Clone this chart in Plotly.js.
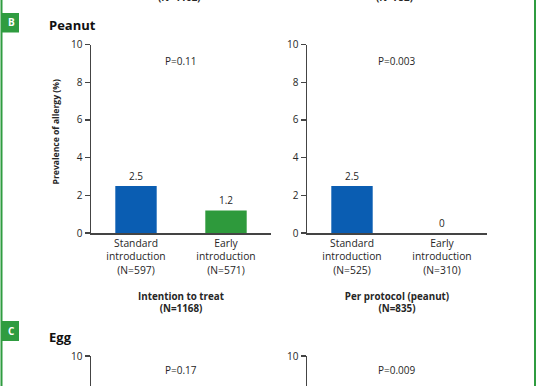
<!DOCTYPE html>
<html>
<head>
<meta charset="utf-8">
<script src="https://cdn.plot.ly/plotly-3.0.1.min.js"></script>
<style>html,body{margin:0;padding:0;background:#fff;}#chart{width:536px;height:386px;}</style>
</head>
<body>
<div id="chart"></div>
<script>
// Panel B: Peanut
const peanutITTCats = ["Standard<br>introduction<br>(N=597)", "Early<br>introduction<br>(N=571)"];
const peanutITTVals = [2.5, 1.2];
const peanutPPCats = ["Standard<br>introduction<br>(N=525)", "Early<br>introduction<br>(N=310)"];
const peanutPPVals = [2.5, 0];
const peanutP = ["P=0.11", "P=0.003"];
const peanutTitles = ["Intention to treat<br>(N=1168)", "Per protocol (peanut)<br>(N=835)"];
// Panel C: Egg (only the top of the axes is visible)
const eggP = ["P=0.17", "P=0.009"];
const yTicks = [0, 2, 4, 6, 8, 10];
const barColors = ["#0a5db2", "#2e9a3c"];
const topNs = ["(N=1162)", "(N=752)"];
const yTitle = "Prevalence of allergy (%)";

const txt = "#262626";
const fontFam = "'Open Sans', 'DejaVu Sans', sans-serif";
const green = "#2f9c40";

function bar(cats, vals, xa, ya) {
  return {
    type: "bar", x: cats, y: vals, xaxis: xa, yaxis: ya,
    width: 0.46, marker: {color: barColors, line: {width: 0}},
    hoverinfo: "skip", showlegend: false
  };
}

const data = [
  bar(peanutITTCats, peanutITTVals, "x", "y"),
  bar(peanutPPCats, peanutPPVals, "x2", "y2"),
  {type: "bar", x: peanutITTCats, y: [null, null], xaxis: "x3", yaxis: "y3", showlegend: false, hoverinfo: "skip"},
  {type: "bar", x: peanutPPCats, y: [null, null], xaxis: "x4", yaxis: "y4", showlegend: false, hoverinfo: "skip"}
];

const W = 536, H = 386;
const px = v => v / W;
const py = v => 1 - v / H;

const xLeft = [px(91), px(271)];
const xRight = [px(307), px(487)];
const yPeanut = [py(233), py(44.5)];
const yEgg = [0, py(356)];
const unitPx = (233 - 44.5) / 10;
const eggLow = 10 - (386 - 356) / unitPx;

function yax(domain, range, anchor) {
  return {
    domain: domain, range: range, anchor: anchor,
    tickvals: yTicks, ticktext: yTicks.map(String),
    ticks: "outside", ticklen: 5, tickwidth: 1.2, tickcolor: "#444",
    showline: true, linecolor: "#444", linewidth: 1.5,
    showgrid: false, zeroline: false,
    tickfont: {family: fontFam, size: 10, color: txt}, fixedrange: true
  };
}
function xax(domain, anchor, cats, title, showLine) {
  const a = {
    domain: domain, anchor: anchor, type: "category",
    categoryarray: cats, categoryorder: "array", range: [-0.5, 1.5],
    showline: showLine, linecolor: "#444", linewidth: 1.5,
    ticks: "", showgrid: false, zeroline: false,
    showticklabels: showLine,
    tickfont: {family: fontFam, size: 10.3, color: txt}, fixedrange: true
  };
  if (title) a.title = {text: title, font: {family: fontFam, size: 9.8, color: txt, weight: 700}, standoff: 17};
  return a;
}

const annotations = [];
function ann(o) {
  annotations.push(Object.assign({showarrow: false, xanchor: "center", yanchor: "middle"}, o));
}
// bar value labels
[[peanutITTCats, peanutITTVals, "x", "y"], [peanutPPCats, peanutPPVals, "x2", "y2"]].forEach(([c, v, xa, ya]) => {
  c.forEach((cat, i) => ann({
    x: cat, y: v[i], xref: xa, yref: ya, text: String(v[i]),
    yanchor: "bottom", yshift: 1, font: {family: fontFam, size: 10, color: txt}
  }));
});
// y axis title (left panel)
ann({x: px(55), y: py(132.5), xref: "paper", yref: "paper", text: "<b>" + yTitle + "</b>",
  textangle: -90, font: {family: fontFam, size: 8.6, color: txt}});
// P values
[["x domain", "y domain", peanutP[0]], ["x2 domain", "y2 domain", peanutP[1]]].forEach(([xr, yr, t]) => ann({
  x: 0.5, y: (233 - 61) / (233 - 44.5), xref: xr, yref: yr, text: t,
  font: {family: fontFam, size: 10, color: txt}
}));
[["x3 domain", eggP[0]], ["x4 domain", eggP[1]]].forEach(([xr, t]) => ann({
  x: 0.5, y: py(370), xref: xr, yref: "paper", text: t,
  font: {family: fontFam, size: 10, color: txt}
}));
// top cut-off N labels
[[px(179), topNs[0]], [px(394), topNs[1]]].forEach(([x, t]) => ann({
  x: x, y: py(-2.5), xref: "paper", yref: "paper", text: "<b>" + t + "</b>",
  font: {family: fontFam, size: 9.8, color: txt}
}));
// section titles
[["Peanut", 25], ["Egg", 337]].forEach(([t, y]) => ann({
  x: px(47), y: py(y), xref: "paper", yref: "paper", xanchor: "left", text: "<b>" + t + "</b>",
  font: {family: fontFam, size: 13, color: "#111"}
}));
// section letters
[["B", 22.5], ["C", 331]].forEach(([t, y]) => ann({
  x: px(11), y: py(y), xref: "paper", yref: "paper", text: "<b>" + t + "</b>",
  font: {family: fontFam, size: 10, color: "#fff"}
}));

const shapes = [
  {type: "line", xref: "paper", yref: "paper", x0: px(1.5), x1: px(1.5), y0: 0, y1: 1, line: {color: green, width: 2}},
  {type: "line", xref: "paper", yref: "paper", x0: px(535), x1: px(535), y0: 0, y1: 1, line: {color: green, width: 2}},
  {type: "rect", xref: "paper", yref: "paper", x0: px(2), x1: px(19), y0: py(32.5), y1: py(13), fillcolor: green, line: {width: 0}},
  {type: "rect", xref: "paper", yref: "paper", x0: px(2), x1: px(19), y0: py(341), y1: py(321), fillcolor: green, line: {width: 0}}
];

const layout = {
  width: W, height: H,
  margin: {l: 0, r: 0, t: 0, b: 0},
  paper_bgcolor: "#fff", plot_bgcolor: "rgba(0,0,0,0)",
  font: {family: fontFam, color: txt},
  bargap: 0.5,
  showlegend: false,
  xaxis: xax(xLeft, "y", peanutITTCats, "<b>" + peanutTitles[0] + "</b>", true),
  yaxis: yax(yPeanut, [0, 10], "x"),
  xaxis2: xax(xRight, "y2", peanutPPCats, "<b>" + peanutTitles[1] + "</b>", true),
  yaxis2: yax(yPeanut, [0, 10], "x2"),
  xaxis3: xax(xLeft, "y3", peanutITTCats, null, false),
  yaxis3: yax(yEgg, [eggLow, 10], "x3"),
  xaxis4: xax(xRight, "y4", peanutPPCats, null, false),
  yaxis4: yax(yEgg, [eggLow, 10], "x4"),
  annotations: annotations,
  shapes: shapes
};

Plotly.newPlot("chart", data, layout, {staticPlot: true, displayModeBar: false});
</script>
</body>
</html>
